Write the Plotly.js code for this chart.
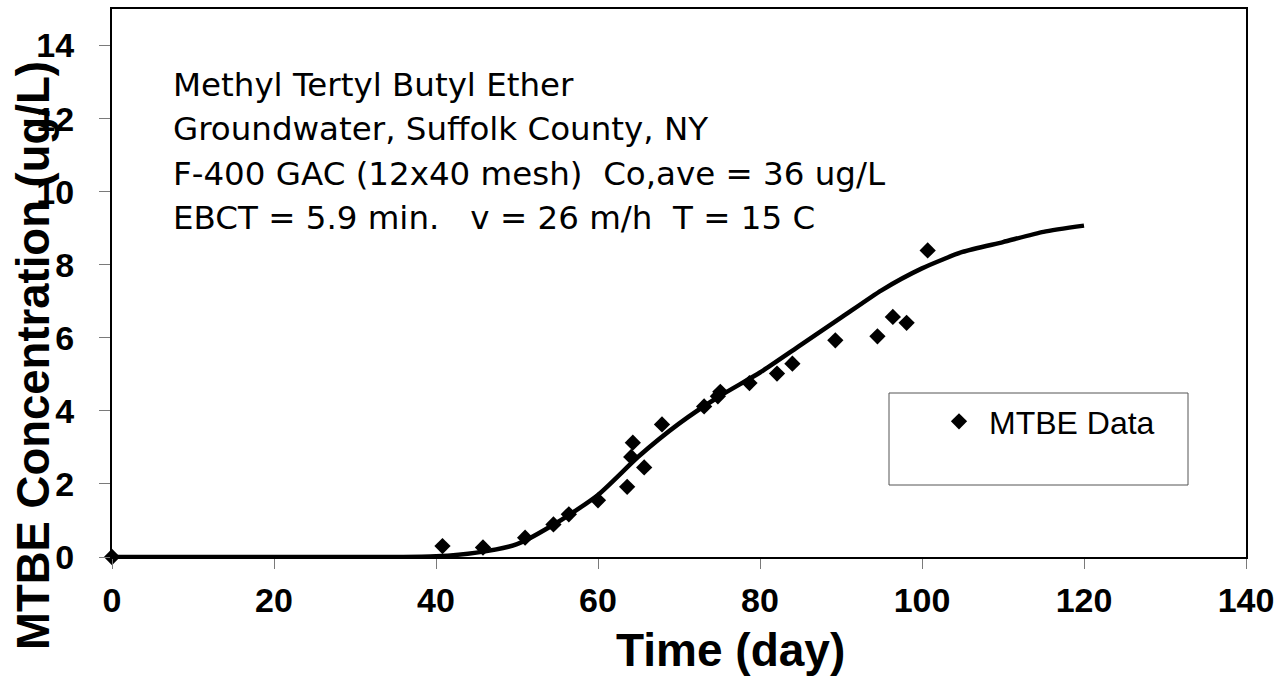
<!DOCTYPE html>
<html>
<head>
<meta charset="utf-8">
<script src="https://cdn.plot.ly/plotly-3.0.1.min.js"></script>
<style>
  html, body { margin: 0; padding: 0; background: #ffffff; }
  #chart { width: 1281px; height: 689px; }
</style>
</head>
<body>
<div id="chart"></div>
<script>
// Measured MTBE effluent concentrations
const dataDays = [0, 40.8, 45.8, 51.0, 54.5, 56.4, 60.0, 63.6, 64.1, 64.3, 65.7, 67.9, 73.1, 74.8, 75.1, 78.7, 82.1, 84.0, 89.3, 94.5, 96.4, 98.1, 100.7];
const dataConc = [0, 0.30, 0.26, 0.53, 0.89, 1.17, 1.55, 1.92, 2.74, 3.13, 2.45, 3.63, 4.12, 4.40, 4.52, 4.76, 5.02, 5.29, 5.93, 6.04, 6.57, 6.41, 8.39];

// Model breakthrough curve
const modelDays = [0, 5, 10, 15, 20, 25, 30, 35, 40, 45, 50, 55, 60, 65, 70, 75, 80, 85, 90, 95, 100, 105, 110, 115, 120];
const modelConc = [0, 0, 0, 0, 0, 0, 0, 0, 0.02, 0.12, 0.35, 0.95, 1.70, 2.75, 3.65, 4.40, 5.05, 5.80, 6.55, 7.30, 7.90, 8.35, 8.62, 8.90, 9.07];

// Axis ticks
const xTicks = [0, 20, 40, 60, 80, 100, 120, 140];
const yTicks = [0, 2, 4, 6, 8, 10, 12, 14];

// Titles and notes
const xTitle = 'Time (day)';
const yTitle = 'MTBE Concentration (ug/L)';
const seriesName = 'MTBE Data';
const noteLines = [
  'Methyl Tertyl Butyl Ether',
  'Groundwater, Suffolk County, NY',
  'F-400 GAC (12x40 mesh)\u00a0\u00a0Co,ave = 36 ug/L',
  'EBCT = 5.9 min.\u00a0\u00a0\u00a0v = 26 m/h\u00a0\u00a0T = 15 C'
];

const W = 1281, H = 689;
const M = { l: 112, r: 35, t: 9, b: 132 };
const plotW = W - M.l - M.r, plotH = H - M.t - M.b;
// pixel -> paper helpers for free-standing text and the legend frame
const px = x => (x - M.l) / plotW;
const py = y => (H - M.b - y) / plotH;

const boldFont = { family: 'Liberation Sans, Arial, sans-serif', weight: 'bold', color: '#000' };

const traces = [
  {
    x: modelDays, y: modelConc, type: 'scatter', mode: 'lines',
    line: { color: '#000', width: 4.5, shape: 'spline', smoothing: 0.6 },
    showlegend: false, hoverinfo: 'skip', cliponaxis: false
  },
  {
    x: dataDays, y: dataConc, type: 'scatter', mode: 'markers', name: seriesName,
    marker: { symbol: 'diamond', size: 12.5, color: '#000' }, cliponaxis: false
  }
];

// note lines, one per annotation with a fixed line pitch
const notePitch = 44.3;
const noteAnnotations = noteLines.map((t, i) => ({
  text: t, xref: 'paper', yref: 'paper',
  x: px(171), y: py(106 + i * notePitch), xanchor: 'left', yanchor: 'bottom',
  showarrow: false, align: 'left',
  font: { family: 'DejaVu Sans, Verdana, sans-serif', size: 32.5, color: '#000' }
}));

const layout = {
  width: W, height: H,
  margin: M,
  paper_bgcolor: '#fff', plot_bgcolor: '#fff',
  showlegend: true,
  xaxis: {
    range: [0, 140], tickvals: xTicks, ticktext: xTicks.map(String),
    ticks: 'outside', ticklen: 10, tickwidth: 1, tickcolor: '#7a7a7a',
    showline: true, mirror: true, linecolor: '#000', linewidth: 2,
    showgrid: false, zeroline: false, ticklabelstandoff: 2,
    tickfont: Object.assign({ size: 34 }, boldFont)
  },
  yaxis: {
    range: [0, 15], tickvals: yTicks, ticktext: yTicks.map(String),
    ticks: 'outside', ticklen: 11, tickwidth: 1, tickcolor: '#7a7a7a',
    showline: true, mirror: true, linecolor: '#000', linewidth: 2,
    showgrid: false, zeroline: false, ticklabelstandoff: 18,
    tickfont: Object.assign({ size: 34 }, boldFont)
  },
  legend: {
    x: px(929), y: py(394), xanchor: 'left', yanchor: 'top',
    itemwidth: 50,
    bgcolor: 'rgba(0,0,0,0)', borderwidth: 0,
    font: { family: 'Liberation Sans, Arial, sans-serif', size: 32, color: '#000' }
  },
  shapes: [
    {
      type: 'rect', xref: 'paper', yref: 'paper',
      x0: px(889), x1: px(1188), y0: py(485), y1: py(393),
      line: { color: '#555', width: 1 }, fillcolor: 'rgba(0,0,0,0)'
    }
  ],
  annotations: [
    {
      text: yTitle, xref: 'paper', yref: 'paper', x: px(34), y: py(356),
      xanchor: 'center', yanchor: 'middle', textangle: -90, showarrow: false,
      font: Object.assign({ size: 45.5 }, boldFont)
    },
    {
      text: xTitle, xref: 'paper', yref: 'paper', x: px(730), y: py(650),
      xanchor: 'center', yanchor: 'middle', showarrow: false,
      font: Object.assign({ size: 46 }, boldFont)
    }
  ].concat(noteAnnotations)
};

Plotly.newPlot('chart', traces, layout, { displayModeBar: false, staticPlot: true });
</script>
</body>
</html>
